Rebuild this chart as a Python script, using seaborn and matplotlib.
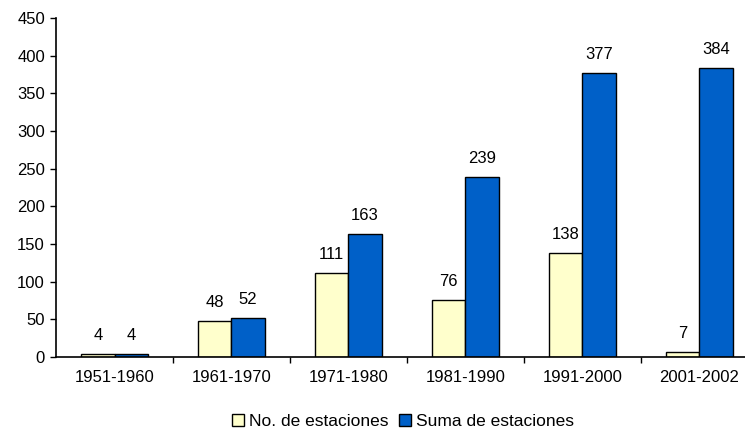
import pandas as pd
import numpy as np
import matplotlib.pyplot as plt
import seaborn as sns
from matplotlib.patches import Patch

# datos
periodos = ['1951-1960', '1961-1970', '1971-1980', '1981-1990', '1991-2000', '2001-2002']
no_estaciones = [4, 48, 111, 76, 138, 7]
suma_estaciones = [4, 52, 163, 239, 377, 384]
series = ['No. de estaciones', 'Suma de estaciones']
colores = ['#FFFFCC', '#0060C8']

df = pd.DataFrame({
    'Periodo': periodos * 2,
    'Serie': [series[0]] * len(periodos) + [series[1]] * len(periodos),
    'Valor': no_estaciones + suma_estaciones,
})

sns.set_style('white')
plt.rcParams['font.family'] = ['Liberation Sans', 'DejaVu Sans']
plt.rcParams['text.color'] = 'black'
plt.rcParams['xtick.color'] = 'black'
plt.rcParams['ytick.color'] = 'black'

fs = 12
fig = plt.figure(figsize=(7.45, 4.32), dpi=100)
ax = fig.add_axes([0.0752, 0.1736, 0.942, 0.7847])

sns.barplot(data=df, x='Periodo', y='Valor', hue='Serie', palette=colores, saturation=1,
            width=0.57, gap=0, edgecolor='black', linewidth=1, ax=ax, legend=False)

for cont in ax.containers:
    for bar in cont:
        h = bar.get_height()
        ax.annotate(f'{int(h)}', (bar.get_x() + bar.get_width() / 2, h),
                    xytext=(0, 8), textcoords='offset points',
                    ha='center', va='bottom', fontsize=fs)

ax.set_ylim(0, 450)
ax.set_xlim(-0.5, len(periodos) - 0.5)
ax.set_yticks(np.arange(0, 451, 50))
ax.set_xlabel('')
ax.set_ylabel('')
ax.tick_params(axis='y', labelsize=fs, length=4, width=1, color='black', left=True, pad=4)
ax.tick_params(axis='x', labelsize=fs, length=0, pad=9)
ax.set_xticks(np.arange(0.5, len(periodos) - 0.5), minor=True)
ax.tick_params(axis='x', which='minor', length=4, width=1, color='black', bottom=True)

for s in ['top', 'right']:
    ax.spines[s].set_visible(False)
for s in ['left', 'bottom']:
    ax.spines[s].set_color('black')
    ax.spines[s].set_linewidth(1.2)

handles = [Patch(facecolor=c, edgecolor='black', linewidth=1) for c in colores]
fig.legend(handles, series, loc='center', bbox_to_anchor=(0.541, 0.025), ncol=2,
           frameon=False, fontsize=12.5, handlelength=0.7, handleheight=0.7,
           handletextpad=0.3, columnspacing=0.6)

fig.savefig('out.png', dpi=100)
